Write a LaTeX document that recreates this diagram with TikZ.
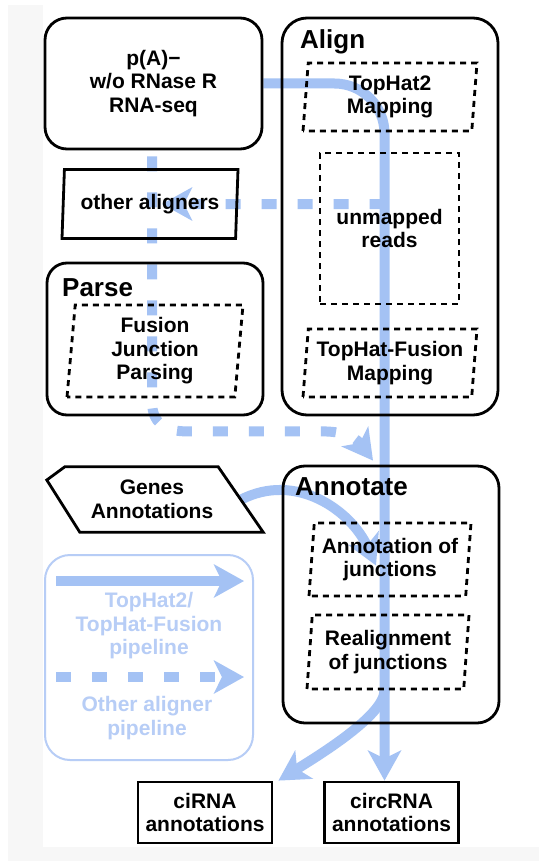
\documentclass[tikz,border=0pt]{standalone}
\usepackage{fontspec}
\setmainfont{Liberation Sans}
\usetikzlibrary{arrows.meta,shapes.geometric}

\definecolor{flowblue}{HTML}{A4C2F4}
\definecolor{keyblue}{HTML}{B7CDF6}

\pgfdeclarelayer{background}
\pgfsetlayers{background,main}

\tikzset{
  every node/.style = {font=\bfseries\fontsize{21}{23.5}\selectfont, align=center},
  stage/.style = {draw, line width=2.8pt, rounded corners=22pt, inner sep=0pt},
  title/.style = {anchor=west, inner sep=0pt, font=\bfseries\fontsize{26}{28}\selectfont},
  tool/.style = {draw, trapezium, trapezium left angle=83, trapezium right angle=97,
                 trapezium stretches body, line width=2.8pt, inner sep=0pt},
  dotted box/.style = {dash pattern=on 6pt off 5pt},
  outcome/.style = {draw, line width=2.8pt, minimum width=134pt, minimum height=61pt, inner sep=0pt},
  flow/.style = {draw=flowblue, line width=10pt,
                 -{Stealth[length=30pt, width=33pt, inset=8pt]}},
  otherflow/.style = {flow, dash pattern=on 15pt off 21pt}
}

\begin{document}
\begin{tikzpicture}[x=1pt, y=-1pt]
  \useasboundingbox (0,0) rectangle (539,861);
  \begin{pgfonlayer}{background}
    \fill[black!3] (8,5) rectangle (539,861);
    \fill[white] (43,0) rectangle (539,847);
  \end{pgfonlayer}

  % input reads
  \node[stage, minimum width=217pt, minimum height=131pt] (input) at (153.5,83.5)
    {p(A)−\\w/o RNase R\\RNA-seq};

  % align stage
  \node[stage, rounded corners=25pt, minimum width=216pt, minimum height=397pt] (align) at (390,216.5) {};
  \node[title] (align-title) at (300,42) {Align};
  \node[tool, dotted box, minimum width=174pt, minimum height=68pt] (tophat) at (390,97) {TopHat2\\Mapping};
  \node[draw, dotted box, line width=2.8pt, minimum width=139pt, minimum height=151pt] (unmapped) at (389.5,228.5)
    {unmapped\\reads};
  \node[tool, dotted box, minimum width=174pt, minimum height=68pt] (fusion) at (390,363) {TopHat-Fusion\\Mapping};

  \node[tool, minimum width=176pt, minimum height=69pt] (other) at (150,204) {other aligners};

  % parse stage
  \node[stage, rounded corners=20pt, minimum width=216pt, minimum height=152pt] (parse) at (155,339) {};
  \node[title] (parse-title) at (62,288) {Parse};
  \node[tool, dotted box, minimum width=176pt, minimum height=92pt] (parsing) at (155,351)
    {Fusion\\Junction\\Parsing};

  % gene annotations
  \node[minimum width=216pt, minimum height=65pt, inner sep=0pt] (genes) at (155,499.5) {};
  \draw[line width=2.8pt, line join=miter] ([xshift=18pt]genes.north west) -- ([xshift=-45pt]genes.north east)
    -- (genes.south east) -- ([xshift=33pt]genes.south west) -- ([yshift=19.5pt]genes.west) -- cycle;
  \node (genes-text) at (152,499.5) {Genes\\Annotations};

  % annotate stage
  \node[stage, minimum width=216pt, minimum height=257pt] (annotate) at (391,594.5) {};
  \node[title] (annotate-title) at (295,487) {Annotate};
  \node[tool, dotted box, minimum width=162pt, minimum height=73pt] (annot) at (390,559.5)
    {Annotation of\\junctions};
  \node[tool, dotted box, minimum width=162pt, minimum height=74pt] (realign) at (388,652)
    {Realignment\\of junctions};

  % outputs
  \node[outcome] (cirna) at (205,812.5) {ciRNA\\annotations};
  \node[outcome] (circrna) at (391.5,812.5) {circRNA\\annotations};

  % key
  \node[draw=keyblue, line width=2pt, rounded corners=25pt, minimum width=208pt, minimum height=205pt,
        inner sep=0pt] (key) at (149,657.5) {};
  \coordinate (key-a) at ([xshift=12pt, yshift=-27pt]key.north west);
  \coordinate (key-b) at ([xshift=-10pt, yshift=-27pt]key.north east);
  \coordinate (key-c) at ([xshift=12pt, yshift=-123pt]key.north west);
  \coordinate (key-d) at ([xshift=-10pt, yshift=-123pt]key.north east);
  \node[text=keyblue] (key-solid) at (149,626) {TopHat2/\\TopHat-Fusion\\pipeline};
  \node[text=keyblue] (key-dashed) at (147,718) {Other aligner\\pipeline};

  \coordinate (trunk) at ([xshift=-7pt]circrna.north);

  \begin{pgfonlayer}{background}
    \draw[flow, rounded corners=50pt] (input.east) -| (trunk);
    \draw[otherflow] (trunk |- other.east) -- ([xshift=12pt]other.center);
    \draw[otherflow] ([xshift=-1.5pt, yshift=-6pt]input.south) -- ++(0,245)
      .. controls +(0,22) and +(-22,0) .. ++(35,30) -- ++(135,0)
      .. controls +(28,0) and +(-15,-20) .. ([xshift=-18pt, yshift=4pt]annotate.north);
    \draw[flow] ([xshift=-22pt]genes.east) .. controls +(55,-28) and +(-25,-55) ..
      ([xshift=-14pt, yshift=-6pt]annot.center);
    \draw[flow] (trunk |- realign.south) .. controls +(0,25) and +(40,-25) .. ([xshift=5pt]cirna.north east);
    \draw[flow] (key-a) -- (key-b);
    \draw[otherflow] (key-c) -- (key-d);
  \end{pgfonlayer}
\end{tikzpicture}
\end{document}
